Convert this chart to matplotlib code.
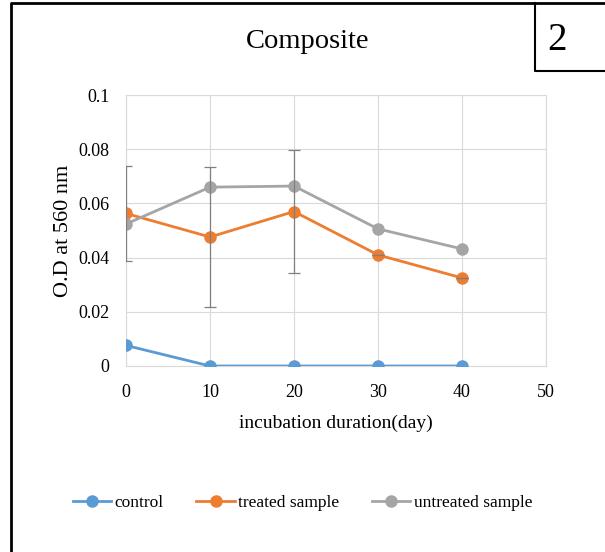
import matplotlib
matplotlib.use("Agg")
import matplotlib.pyplot as plt
from matplotlib.lines import Line2D

plt.rcParams['font.family'] = ['Liberation Serif', 'DejaVu Serif']

days = [0, 10, 20, 30, 40]
control = [0.0076, 0.0, 0.0, 0.0, 0.0]
treated = [0.0563, 0.0476, 0.0570, 0.0410, 0.0325]
untreated = [0.0524, 0.0660, 0.0664, 0.0506, 0.0432]
treated_err = [0.0175, 0.0258, 0.0227, 0.0, 0.0]

x_ticks = [0, 10, 20, 30, 40, 50]
y_ticks = [0, 0.02, 0.04, 0.06, 0.08, 0.1]
y_tick_labels = ["0", "0.02", "0.04", "0.06", "0.08", "0.1"]
series_names = ["control", "treated sample", "untreated sample"]
colors = ["#5B9BD5", "#ED7D31", "#A5A5A5"]

W, H = 605, 552
fig = plt.figure(figsize=(W / 100, H / 100), dpi=100)
ax = fig.add_axes([126 / W, 1 - 366 / H, (546 - 126) / W, (366 - 95) / H])

for vals, c, name in zip([control, treated, untreated], colors, series_names):
    ax.plot(days, vals, color=c, lw=2.0, marker='o', ms=8, label=name, zorder=3)

ax.errorbar(days, treated, yerr=treated_err, fmt='none', ecolor='#7f7f7f',
            elinewidth=0.9, capsize=4, capthick=0.9, zorder=4)

ax.set_xlim(0, 50)
ax.set_ylim(0, 0.1)
ax.set_xticks(x_ticks)
ax.set_xticklabels([str(v) for v in x_ticks])
ax.set_yticks(y_ticks)
ax.set_yticklabels(y_tick_labels)
ax.grid(True, color='#d9d9d9', lw=0.8)
ax.set_axisbelow(True)
for s in ax.spines.values():
    s.set_color('#d9d9d9')
    s.set_linewidth(0.8)
ax.tick_params(length=0, labelsize=13, colors='black')
ax.tick_params(axis='y', pad=12)
ax.tick_params(axis='x', pad=13)

ax.set_xlabel("incubation duration(day)", fontsize=14, va='center')
ax.xaxis.set_label_coords(0.5, -0.21)
ax.set_ylabel("O.D at 560 nm", fontsize=16, va='center')
ax.yaxis.set_label_coords(-0.15, 0.5)

fig.legend(loc='center', bbox_to_anchor=(0.5, 1 - 503 / H), ncol=3, frameon=False,
           fontsize=12.5, handlelength=2.2, handletextpad=0.2, columnspacing=1.9)

fig.text(308 / W, 1 - 42 / H, "Composite", fontsize=20.5, ha='center', va='center')
fig.text(557 / W, 1 - 40 / H, "2", fontsize=28, ha='center', va='center')

def fl(xs, ys, lw=2.0):
    fig.add_artist(Line2D([x / W for x in xs], [1 - y / H for y in ys],
                          color='black', lw=lw, transform=fig.transFigure))

fl([11, 11, 605], [552, 3, 3])
fl([535, 535, 605], [3, 71, 71], lw=1.5)

fig.savefig("out.png", dpi=100)
